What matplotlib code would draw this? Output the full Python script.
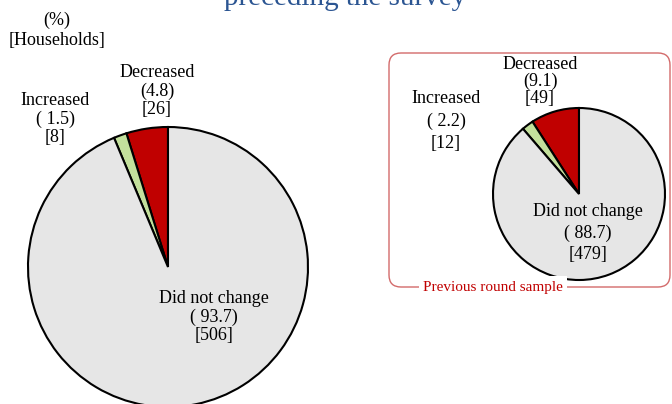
import numpy as np
import matplotlib
matplotlib.use("Agg")
import matplotlib.pyplot as plt
from matplotlib.patches import FancyBboxPatch

# data
labels = ["Decreased", "Increased", "Did not change"]
current_pct = [4.8, 1.5, 93.7]
current_hh = [26, 8, 506]
previous_pct = [9.1, 2.2, 88.7]
previous_hh = [49, 12, 479]
colors = ["#C00000", "#C3E09C", "#E6E6E6"]

plt.rcParams['font.family'] = ['Liberation Serif', 'DejaVu Serif']

W, H = 672, 404
fig = plt.figure(figsize=(W / 100, H / 100), dpi=100)
ax = fig.add_axes([0, 0, 1, 1])

wp = dict(edgecolor='black', linewidth=1.5)

# current round pie
ax.pie(current_pct, colors=colors, startangle=90, counterclock=True,
       center=(168, H - 267), radius=140, wedgeprops=wp, frame=True)
# previous round pie
ax.pie(previous_pct, colors=colors, startangle=90, counterclock=True,
       center=(579, H - 194), radius=86, wedgeprops=wp, frame=True)
ax.set_xlim(0, W)
ax.set_ylim(0, H)
ax.set_aspect('equal')
ax.axis('off')

fs = 13

def lbl(x, y, i, pct, hh, gap=1.1, pad_pct=True):
    p = f"( {pct[i]})" if pad_pct else f"({pct[i]})"
    ax.text(x, H - y, f"{labels[i]}\n{p}\n[{hh[i]}]", ha='center', va='top',
            fontsize=fs, linespacing=gap)

# current round labels
lbl(157, 64, 0, current_pct, current_hh, pad_pct=False)
lbl(55, 92, 1, current_pct, current_hh)
lbl(214, 290, 2, current_pct, current_hh)

# previous round labels
lbl(540, 56, 0, previous_pct, previous_hh, gap=1.0, pad_pct=False)
lbl(446, 90, 1, previous_pct, previous_hh, gap=1.42)
lbl(588, 203, 2, previous_pct, previous_hh, gap=1.35)

# box around previous round
box = FancyBboxPatch((389, H - 287), 281, 234,
                     boxstyle="round,pad=0,rounding_size=12",
                     facecolor='none', edgecolor='#D36B6B', linewidth=1.0)
ax.add_patch(box)
ax.text(493, H - 287, "Previous round sample", ha='center', va='center',
        fontsize=11, color='#C00000',
        bbox=dict(facecolor='white', edgecolor='none', pad=3))

# header texts
ax.text(57, H - 20, "(%)", ha='center', va='center', fontsize=fs)
ax.text(57, H - 40, "[Households]", ha='center', va='center', fontsize=fs)
ax.text(345, H - 5, "preceding the survey", ha='center', va='baseline',
        fontsize=21, color='#2B5592')

fig.savefig("out.png", dpi=100)
